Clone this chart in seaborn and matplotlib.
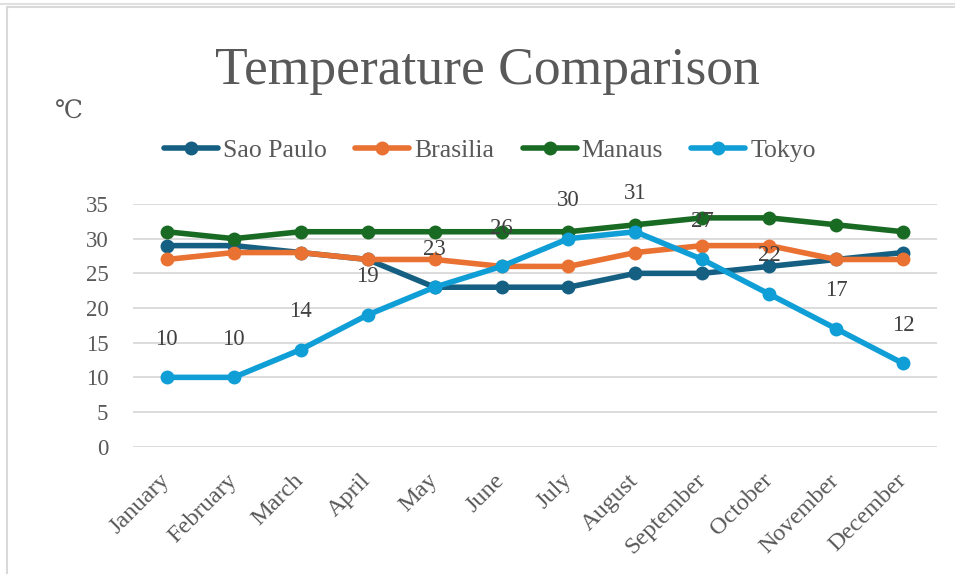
import pandas as pd
import seaborn as sns
import matplotlib.pyplot as plt
from matplotlib.lines import Line2D
from matplotlib.patches import Rectangle

months = ["January", "February", "March", "April", "May", "June",
          "July", "August", "September", "October", "November", "December"]
sao_paulo = [29, 29, 28, 27, 23, 23, 23, 25, 25, 26, 27, 28]
brasilia = [27, 28, 28, 27, 27, 26, 26, 28, 29, 29, 27, 27]
manaus = [31, 30, 31, 31, 31, 31, 31, 32, 33, 33, 32, 31]
tokyo = [10, 10, 14, 19, 23, 26, 30, 31, 27, 22, 17, 12]
cities = ["Sao Paulo", "Brasilia", "Manaus", "Tokyo"]
colors = ["#156082", "#E97132", "#196B24", "#0F9ED5"]

df = pd.DataFrame({
    "Month": months * 4,
    "Temp": sao_paulo + brasilia + manaus + tokyo,
    "City": [c for c in cities for _ in months],
})

sns.set_style("white")
plt.rcParams["font.family"] = ["Liberation Serif", "DejaVu Serif"]
text_gray = "#595959"

fig = plt.figure(figsize=(9.55, 5.74), dpi=100)
ax = fig.add_axes([133.3 / 955, 1 - 446.7 / 574, (936.7 - 133.3) / 955, (446.7 - 204) / 574])

sns.lineplot(data=df, x="Month", y="Temp", hue="City", palette=colors,
             sort=False, marker="o", markersize=10, markeredgewidth=0,
             linewidth=4, legend=False, ax=ax)

# data labels for Tokyo only
for m, v in zip(months, tokyo):
    ax.annotate(str(v), (m, v), xytext=(0, 27.5), textcoords="offset points",
                ha="center", va="center", fontsize=16.5, color="#404040", zorder=10)

ax.set_xlim(-0.5, 11.5)
ax.set_ylim(0, 35)
ax.set_yticks(range(0, 36, 5))
ax.yaxis.grid(True, color="#d9d9d9", linewidth=1.3)
ax.set_axisbelow(True)
for s in ax.spines.values():
    s.set_visible(False)
ax.set_xlabel("")
ax.set_ylabel("")
ax.tick_params(axis="y", length=0, pad=18, labelsize=16.5, labelcolor=text_gray)
ax.tick_params(axis="x", length=0, pad=22, labelsize=17.5, labelcolor=text_gray)
plt.setp(ax.get_xticklabels(), rotation=45, ha="right", va="center", rotation_mode="anchor")

fig.text(487 / 955, 1 - 84 / 574, "Temperature Comparison", ha="center", va="baseline",
         fontsize=38.5, color=text_gray)
fig.text(69 / 955, 1 - 113 / 574, "℃", ha="center", va="center",
         fontsize=18, color=text_gray)

handles = [Line2D([], [], color=c, linewidth=4, marker="o", markersize=10,
                  markeredgewidth=0) for c in colors]
fig.legend(handles, cities, loc="center", bbox_to_anchor=(490 / 955, 1 - 151 / 574),
           ncol=4, frameon=False, fontsize=18.5, handlelength=2.1,
           handletextpad=0.2, columnspacing=1.1, labelcolor=text_gray)

# chart border
fig.add_artist(Rectangle((7 / 955, -0.05), 1.0, 1 - 7 / 574 + 0.05, transform=fig.transFigure,
                         fill=False, edgecolor="#d9d9d9", linewidth=1.5))
fig.add_artist(Line2D([0, 1], [1 - 4 / 574, 1 - 4 / 574], transform=fig.transFigure,
                      color="#e0e0e0", linewidth=1.5))

fig.savefig("out.png", dpi=100)
